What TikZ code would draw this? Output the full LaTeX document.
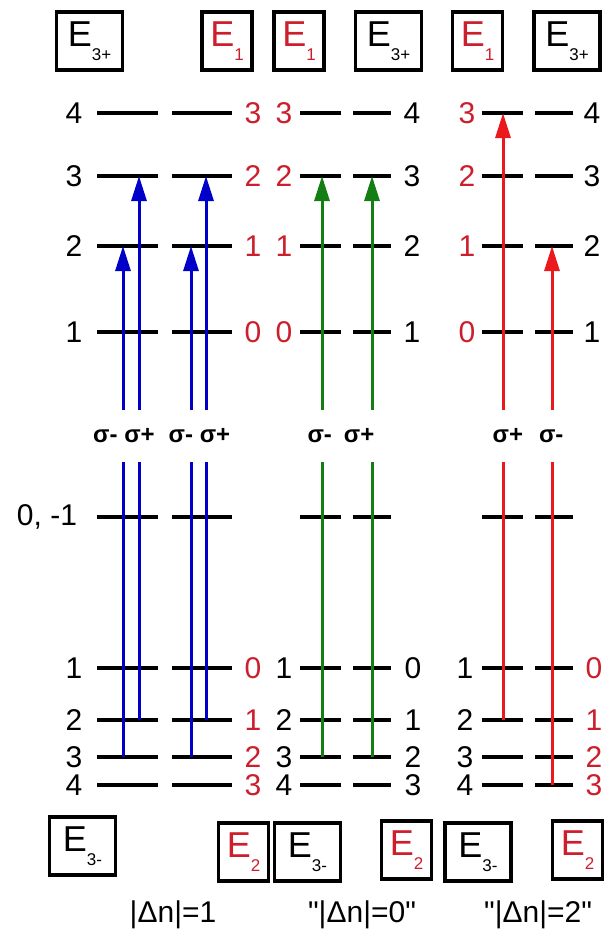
\documentclass[tikz,border=0pt]{standalone}
\usepackage{fontspec}
\setmainfont{Liberation Sans}
\newfontfamily\plainsans{Liberation Sans}
\definecolor{trblue}{RGB}{0,0,200}
\definecolor{trgreen}{RGB}{20,125,20}
\definecolor{trred}{RGB}{235,25,30}
\definecolor{numred}{RGB}{205,30,45}
\usetikzlibrary{arrows.meta}
\newcommand{\Esub}[1]{E\raisebox{-0.4em}{\fontsize{17}{17}\selectfont #1}}

\begin{document}
\begin{tikzpicture}[
  x=1pt, y=-1pt,
  lvl/.style={line width=4pt, draw=black},
  lvnum/.style={font=\fontsize{30}{30}\selectfont, inner sep=0pt},
  rnum/.style={lvnum, text=numred},
  ebox/.style={
    draw, line width=3.5pt,
    minimum width=66pt, minimum height=58pt,
    inner sep=0pt,
    font=\fontsize{36}{36}\selectfont
  },
  eboxr/.style={ebox, minimum width=50pt, text=numred},
  trans/.style={-{Triangle[length=25pt,width=15pt]}, line width=3pt},
  pol/.style={fill=white, font=\fontsize{24}{24}\selectfont\bfseries, inner sep=1pt, minimum height=52pt},
  dn/.style={font=\fontsize{30}{30}\selectfont\plainsans}
]
\useasboundingbox (0,0) rectangle (603,947);

\node[ebox]  (t1) at (89.5,41)  {\Esub{3+}};
\node[eboxr] (t2) at (227,41)   {\Esub{1}};
\node[eboxr] (t3) at (299,41)   {\Esub{1}};
\node[ebox]  (t4) at (388.5,41) {\Esub{3+}};
\node[eboxr] (t5) at (477.5,41) {\Esub{1}};
\node[ebox]  (t6) at (567,41)   {\Esub{3+}};

\draw[lvl] (97,113) -- (158,113) (172,113) -- (232,113) (300,113) -- (341,113) (353,113) -- (391,113) (482,113) -- (523,113) (535,113) -- (573,113);
\draw[lvl] (97,176) -- (158,176) (172,176) -- (232,176) (300,176) -- (341,176) (353,176) -- (391,176) (482,176) -- (523,176) (535,176) -- (573,176);
\draw[lvl] (97,246) -- (158,246) (172,246) -- (232,246) (300,246) -- (341,246) (353,246) -- (391,246) (482,246) -- (523,246) (535,246) -- (573,246);
\draw[lvl] (97,332) -- (158,332) (172,332) -- (232,332) (300,332) -- (341,332) (353,332) -- (391,332) (482,332) -- (523,332) (535,332) -- (573,332);
\draw[lvl] (97,517) -- (158,517) (172,517) -- (232,517) (300,517) -- (341,517) (353,517) -- (391,517) (482,517) -- (523,517) (535,517) -- (573,517);
\draw[lvl] (97,668) -- (158,668) (172,668) -- (232,668) (300,668) -- (341,668) (353,668) -- (391,668) (482,668) -- (523,668) (535,668) -- (573,668);
\draw[lvl] (97,720) -- (158,720) (172,720) -- (232,720) (300,720) -- (341,720) (353,720) -- (391,720) (482,720) -- (523,720) (535,720) -- (573,720);
\draw[lvl] (97,757) -- (158,757) (172,757) -- (232,757) (300,757) -- (341,757) (353,757) -- (391,757) (482,757) -- (523,757) (535,757) -- (573,757);
\draw[lvl] (97,785) -- (158,785) (172,785) -- (232,785) (300,785) -- (341,785) (353,785) -- (391,785) (482,785) -- (523,785) (535,785) -- (573,785);

\node[lvnum] (a4) at (74,113) {4}; \node[rnum] (b4) at (253,113) {3}; \node[rnum] (c4) at (284,113) {3};
\node[lvnum] (d4) at (412,113) {4}; \node[rnum] (e4) at (467,113) {3}; \node[lvnum] (f4) at (592,113) {4};
\node[lvnum] (a3) at (74,176) {3}; \node[rnum] (b3) at (253,176) {2}; \node[rnum] (c3) at (284,176) {2};
\node[lvnum] (d3) at (412,176) {3}; \node[rnum] (e3) at (467,176) {2}; \node[lvnum] (f3) at (592,176) {3};
\node[lvnum] (a2) at (74,246) {2}; \node[rnum] (b2) at (253,246) {1}; \node[rnum] (c2) at (284,246) {1};
\node[lvnum] (d2) at (412,246) {2}; \node[rnum] (e2) at (467,246) {1}; \node[lvnum] (f2) at (592,246) {2};
\node[lvnum] (a1) at (74,332) {1}; \node[rnum] (b1) at (253,332) {0}; \node[rnum] (c1) at (284,332) {0};
\node[lvnum] (d1) at (412,332) {1}; \node[rnum] (e1) at (467,332) {0}; \node[lvnum] (f1) at (592,332) {1};

\node[lvnum] (a0) at (47,517) {0, -1};

\node[lvnum] (la1) at (74,668) {1}; \node[rnum] (lb1) at (253,668) {0}; \node[lvnum] (lc1) at (284,668) {1};
\node[lvnum] (ld1) at (413,668) {0}; \node[lvnum] (le1) at (465,668) {1}; \node[rnum] (lf1) at (594,668) {0};
\node[lvnum] (la2) at (74,720) {2}; \node[rnum] (lb2) at (253,720) {1}; \node[lvnum] (lc2) at (284,720) {2};
\node[lvnum] (ld2) at (413,720) {1}; \node[lvnum] (le2) at (465,720) {2}; \node[rnum] (lf2) at (594,720) {1};
\node[lvnum] (la3) at (74,757) {3}; \node[rnum] (lb3) at (253,757) {2}; \node[lvnum] (lc3) at (284,757) {3};
\node[lvnum] (ld3) at (413,757) {2}; \node[lvnum] (le3) at (465,757) {3}; \node[rnum] (lf3) at (594,757) {2};
\node[lvnum] (la4) at (74,785) {4}; \node[rnum] (lb4) at (253,785) {3}; \node[lvnum] (lc4) at (284,785) {4};
\node[lvnum] (ld4) at (413,785) {3}; \node[lvnum] (le4) at (465,785) {4}; \node[rnum] (lf4) at (594,785) {3};

\coordinate (bm1s) at (123,757); \coordinate (bm1e) at (123,246);
\coordinate (bp1s) at (139,720); \coordinate (bp1e) at (139,176);
\coordinate (bm2s) at (191,757); \coordinate (bm2e) at (191,246);
\coordinate (bp2s) at (206,720); \coordinate (bp2e) at (206,176);
\coordinate (gms) at (322,757);  \coordinate (gme) at (322,176);
\coordinate (gps) at (372,757);  \coordinate (gpe) at (372,176);
\coordinate (rps) at (503,720);  \coordinate (rpe) at (503,113);
\coordinate (rms) at (552,785);  \coordinate (rme) at (552,246);

\draw[trans, trblue]  (bm1s) -- (bm1e);
\draw[trans, trblue]  (bp1s) -- (bp1e);
\draw[trans, trblue]  (bm2s) -- (bm2e);
\draw[trans, trblue]  (bp2s) -- (bp2e);
\draw[trans, trgreen] (gms) -- (gme);
\draw[trans, trgreen] (gps) -- (gpe);
\draw[trans, trred]   (rps) -- (rpe);
\draw[trans, trred]   (rms) -- (rme);

\node[pol] (p1) at (124,436)   {σ- σ+};
\node[pol] (p2) at (199.5,436) {σ- σ+};
\node[pol] (p3) at (341,436)   {σ-\hspace{12pt}σ+};
\node[pol] (p4) at (528,436)   {σ+\hspace{16pt}σ-};

\node[ebox]  (u1) at (82.5,846)  {\Esub{3-}};
\node[eboxr] (u2) at (243.5,852) {\Esub{2}};
\node[ebox]  (u3) at (307.5,852) {\Esub{3-}};
\node[eboxr] (u4) at (406.5,850) {\Esub{2}};
\node[ebox]  (u5) at (478,852)   {\Esub{3-}};
\node[eboxr] (u6) at (577.5,850) {\Esub{2}};

\node[dn] (n1) at (173,915) {|Δn|=1};
\node[dn] (n0) at (362,915) {"|Δn|=0"};
\node[dn] (n2) at (538,915) {"|Δn|=2"};
\end{tikzpicture}
\end{document}
